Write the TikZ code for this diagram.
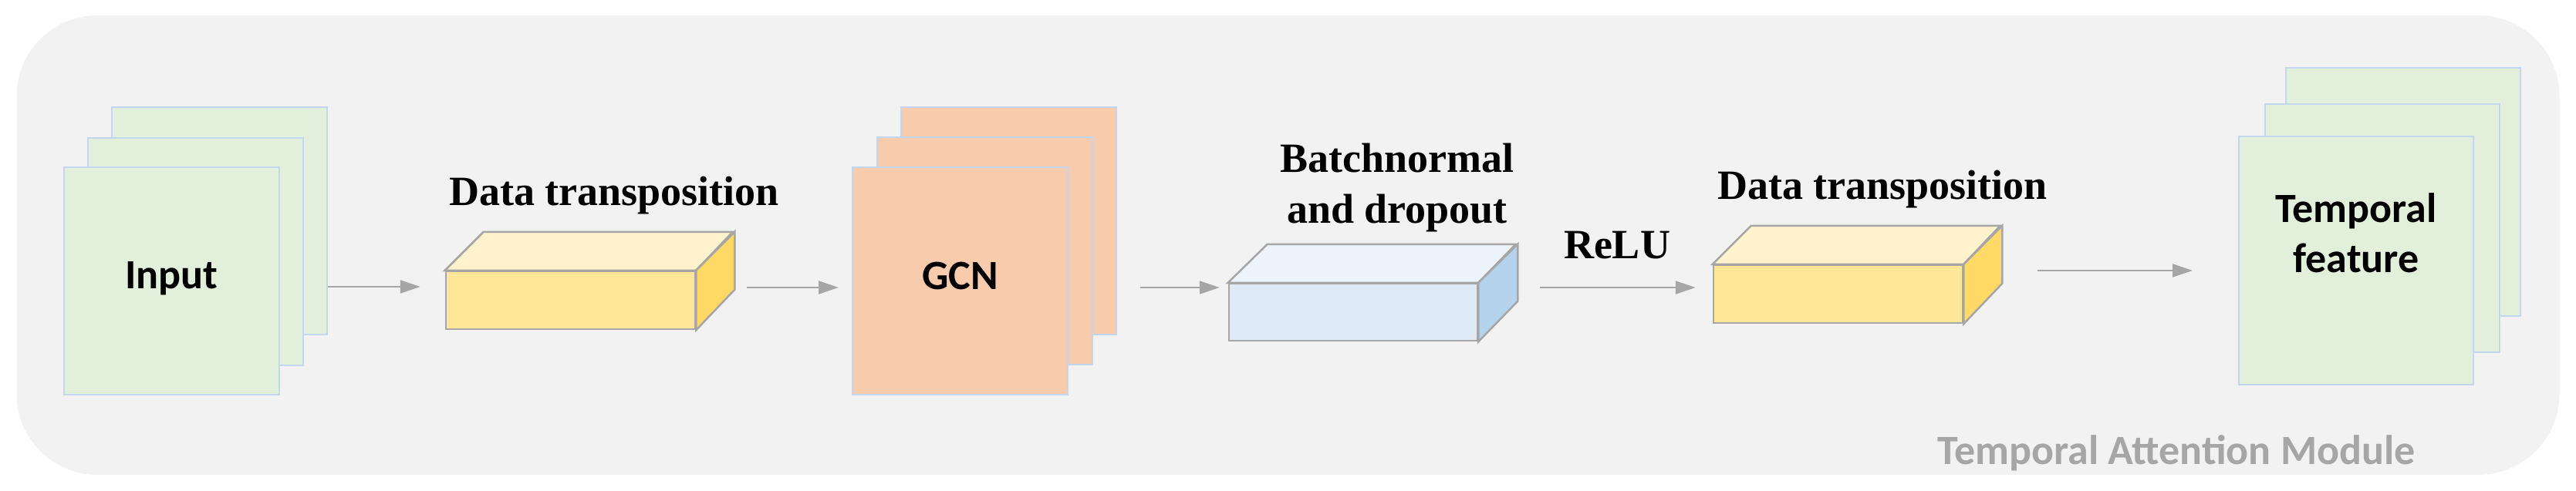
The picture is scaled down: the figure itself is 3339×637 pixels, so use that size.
\documentclass[tikz,border=0pt]{standalone}
\usepackage{fontspec}
\setmainfont{Liberation Serif}
\newfontfamily\calibri{Carlito}
\usetikzlibrary{arrows.meta}
\definecolor{bgcol}{HTML}{F2F2F2}
\definecolor{greenfill}{HTML}{E2EFDA}
\definecolor{sheetline}{HTML}{C2D6EE}
\definecolor{peach}{HTML}{F8CBAD}
\definecolor{yfront}{HTML}{FFE699}
\definecolor{ytop}{HTML}{FFF2CC}
\definecolor{yside}{HTML}{FFD966}
\definecolor{bfront}{HTML}{DEEBF7}
\definecolor{btop}{HTML}{EDF3FA}
\definecolor{bside}{HTML}{B6D3EE}
\definecolor{edgegray}{HTML}{A6A6A6}
\definecolor{arrowgray}{HTML}{A6A6A6}
\definecolor{labelgray}{HTML}{A6A6A6}
\newcommand\serifbig{\fontsize{54}{66}\selectfont\bfseries}
\newcommand\sansbig{\calibri\fontsize{54}{65}\selectfont\bfseries}
\begin{document}
\begin{tikzpicture}[x=1pt,y=-1pt,
  bgbox/.style={fill=bgcol,draw=none,rounded corners=105pt,inner sep=0pt},
  sheet/.style={draw=sheetline,line width=2pt,inner sep=0pt,minimum width=279pt,minimum height=295pt},
  bigsheet/.style={draw=sheetline,line width=2pt,inner sep=0pt,minimum width=304pt,minimum height=322pt},
  greensheet/.style={sheet,fill=greenfill},
  peachsheet/.style={sheet,fill=peach},
  tfsheet/.style={bigsheet,fill=greenfill},
  face/.style={draw=edgegray,line width=2.5pt,line join=miter},
  frontface/.style={face,inner sep=0pt,minimum width=323pt,minimum height=75pt},
  arr/.style={draw=arrowgray,line width=2pt,-{Triangle[length=26pt,width=17pt]}},
  sanslbl/.style={font=\sansbig,inner sep=0pt,align=center},
  seriflbl/.style={font=\serifbig,inner sep=0pt,align=center}]
\useasboundingbox (0,0) rectangle (3339,637);
\fill[white] (0,0) rectangle (3339,637);
\node[bgbox,minimum width=3296pt,minimum height=596pt] (bg) at (1669.5,318) {};

% Input stack
\node[greensheet] (in3) at (284.5,286.5) {};
\node[greensheet] (in2) at (253.5,326) {};
\node[greensheet] (in1) at (222.5,364.5) {};
\node[sanslbl,anchor=base] (inlbl) at (222.5,374) {Input};

% Box 1 (yellow)
\node[frontface,fill=yfront] (b1f) at (739.5,389.5) {};
\filldraw[face,fill=ytop] (b1f.north west) -- ++(50,-50) -- ++(323,0) -- (b1f.north east) -- cycle;
\filldraw[face,fill=yside] (b1f.north east) -- ++(50,-50) -- ++(0,75) -- (b1f.south east) -- cycle;
\node[seriflbl,anchor=base] (l1) at (796,266) {Data transposition};

% GCN stack
\node[peachsheet] (g3) at (1307,286.5) {};
\node[peachsheet] (g2) at (1276.5,325.5) {};
\node[peachsheet] (g1) at (1244.5,364.5) {};
\node[sanslbl,anchor=base] (glbl) at (1244.5,375) {GCN};

% Box 2 (blue)
\node[frontface,fill=bfront,minimum width=322pt,minimum height=74pt] (b2f) at (1754,405) {};
\filldraw[face,fill=btop] (b2f.north west) -- ++(51,-50) -- ++(322,0) -- (b2f.north east) -- cycle;
\filldraw[face,fill=bside] (b2f.north east) -- ++(51,-50) -- ++(0,74) -- (b2f.south east) -- cycle;
\node[seriflbl,anchor=base] (l2a) at (1811,223) {Batchnormal};
\node[seriflbl,anchor=base] (l2b) at (1811,289) {and dropout};

% ReLU
\node[seriflbl,anchor=base] (relu) at (2096,335) {ReLU};

% Box 3 (yellow)
\node[frontface,fill=yfront] (b3f) at (2382.5,381.5) {};
\filldraw[face,fill=ytop] (b3f.north west) -- ++(50,-50) -- ++(323,0) -- (b3f.north east) -- cycle;
\filldraw[face,fill=yside] (b3f.north east) -- ++(50,-50) -- ++(0,75) -- (b3f.south east) -- cycle;
\node[seriflbl,anchor=base] (l3) at (2440,258) {Data transposition};

% Temporal feature stack
\node[tfsheet] (t3) at (3115,249) {};
\node[tfsheet] (t2) at (3088,295.5) {};
\node[tfsheet] (t1) at (3054,338) {};
\node[sanslbl,anchor=base] (tl1) at (3054,288) {Temporal};
\node[sanslbl,anchor=base] (tl2) at (3054,353) {feature};

% module label
\node[font=\sansbig,text=labelgray,inner sep=0pt,anchor=base] (mod) at (2821,602) {Temporal Attention Module};

% arrows
\coordinate (ya) at (0,372);
\coordinate (yb) at (0,373);
\coordinate (yc) at (0,351);
\draw[arr] (in3.east |- ya) -- ([xshift=-32pt]b1f.west |- ya);
\draw[arr] ([xshift=66pt]b1f.east |- yb) -- ([xshift=-17pt]g1.west |- yb);
\draw[arr] ([xshift=30pt]g3.east |- yb) -- ([xshift=-11pt]b2f.west |- yb);
\draw[arr] ([xshift=80pt]b2f.east |- yb) -- ([xshift=-22pt]b3f.west |- yb);
\draw[arr] ([xshift=96pt]b3f.east |- yc) -- ([xshift=-59pt]t1.west |- yc);
\end{tikzpicture}
\end{document}
